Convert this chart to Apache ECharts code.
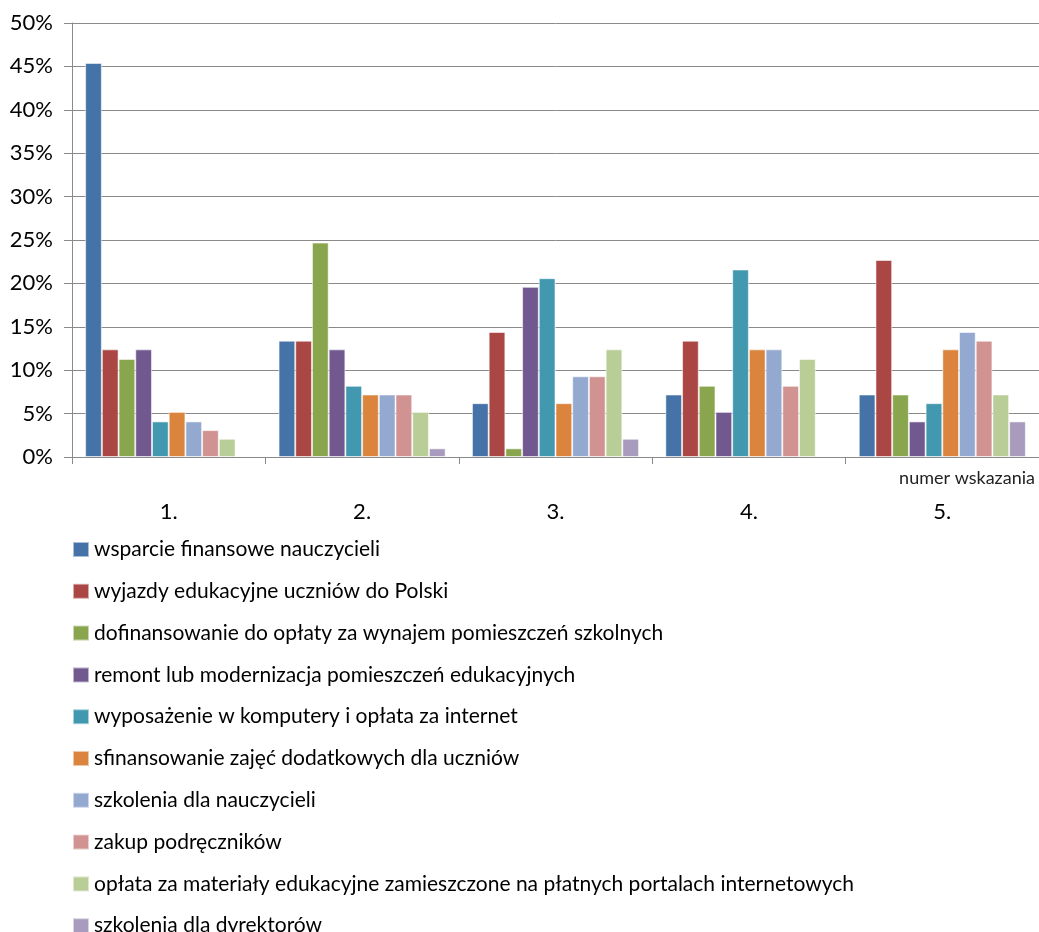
<!DOCTYPE html>
<html>
<head>
<meta charset="utf-8">
<script src="https://cdn.jsdelivr.net/npm/echarts@6/dist/echarts.min.js"></script>
<style>
  html, body { margin: 0; padding: 0; background: #fff; }
  #chart { width: 1039px; height: 932px; }
</style>
</head>
<body>
<div id="chart"></div>
<script>
// Categories: the rank number given by respondents
const categories = ['1.', '2.', '3.', '4.', '5.'];

// Share of answers (%) for each purpose, per rank
const wsparcieFinansowe   = [45.4, 13.4, 6.2, 7.2, 7.2];
const wyjazdyEdukacyjne   = [12.4, 13.4, 14.4, 13.4, 22.7];
const dofinansowanieSal   = [11.3, 24.7, 1.0, 8.2, 7.2];
const remontPomieszczen   = [12.4, 12.4, 19.6, 5.2, 4.1];
const komputeryInternet   = [4.1, 8.2, 20.6, 21.6, 6.2];
const zajeciaDodatkowe    = [5.2, 7.2, 6.2, 12.4, 12.4];
const szkoleniaNauczycieli = [4.1, 7.2, 9.3, 12.4, 14.4];
const zakupPodrecznikow   = [3.1, 7.2, 9.3, 8.2, 13.4];
const portaleInternetowe  = [2.1, 5.2, 12.4, 11.3, 7.2];
const szkoleniaDyrektorow = [0, 1.0, 2.1, 0, 4.1];

const seriesNames = [
  'wsparcie finansowe nauczycieli',
  'wyjazdy edukacyjne uczniów do Polski',
  'dofinansowanie do opłaty za wynajem pomieszczeń szkolnych',
  'remont lub modernizacja pomieszczeń edukacyjnych',
  'wyposażenie w komputery i opłata za internet',
  'sfinansowanie zajęć dodatkowych dla uczniów',
  'szkolenia dla nauczycieli',
  'zakup podręczników',
  'opłata za materiały edukacyjne zamieszczone na płatnych portalach internetowych',
  'szkolenia dla dyrektorów'
];
const seriesValues = [
  wsparcieFinansowe, wyjazdyEdukacyjne, dofinansowanieSal, remontPomieszczen,
  komputeryInternet, zajeciaDodatkowe, szkoleniaNauczycieli, zakupPodrecznikow,
  portaleInternetowe, szkoleniaDyrektorow
];

// Y axis range and step (percent)
const yMin = 0, yMax = 50, yStep = 5;
const axisName = 'numer wskazania';

const palette = ['#4572A7', '#AA4643', '#89A54E', '#71588F', '#4198AF',
                 '#DB843D', '#93A9CF', '#D19392', '#B9CD96', '#A99BBD'];
const FONT = 'Lato';

const chart = echarts.init(document.getElementById('chart'), null, { renderer: 'canvas' });

chart.setOption({
  animation: false,
  backgroundColor: '#fff',
  color: palette,
  textStyle: { fontFamily: FONT },
  grid: { left: 72, right: -5, top: 23, bottom: 475, containLabel: false },
  xAxis: {
    type: 'category',
    data: categories,
    boundaryGap: true,
    axisLine: { show: true, lineStyle: { color: '#8a8a8a', width: 1 } },
    axisTick: { show: true, length: 7, alignWithLabel: false, lineStyle: { color: '#8a8a8a' } },
    axisLabel: { color: '#000', fontSize: 22, fontFamily: FONT, margin: 44 },
    splitLine: { show: false }
  },
  yAxis: {
    type: 'value',
    min: yMin, max: yMax, interval: yStep,
    axisLine: { show: true, lineStyle: { color: '#8a8a8a', width: 1 } },
    axisTick: { show: true, length: 8, lineStyle: { color: '#8a8a8a' } },
    axisLabel: { color: '#000', fontSize: 22, fontFamily: FONT, margin: 19,
                 formatter: v => v + '%' },
    splitLine: { show: true, lineStyle: { color: '#8a8a8a', width: 1 } }
  },
  legend: {
    orient: 'vertical',
    left: 72, top: 539,
    height: 460,
    padding: 0,
    itemWidth: 16, itemHeight: 15, itemGap: 20.8,
    icon: 'rect',
    data: seriesNames,
    textStyle: { color: '#000', fontSize: 21, fontFamily: FONT }
  },
  graphic: [{
    type: 'text',
    right: 4, top: 469,
    style: { text: axisName, fontSize: 18, fontFamily: FONT, fill: '#222' }
  }],
  series: seriesNames.map((name, i) => ({
    name,
    type: 'bar',
    data: seriesValues[i].map(v => v === 0
      ? { value: v, itemStyle: { borderWidth: 0 } }
      : v),
    barGap: '0%',
    barCategoryGap: '13.6%',
    itemStyle: { borderColor: 'rgba(255,255,255,0.55)', borderWidth: 1 }
  }))
});
</script>
</body>
</html>
